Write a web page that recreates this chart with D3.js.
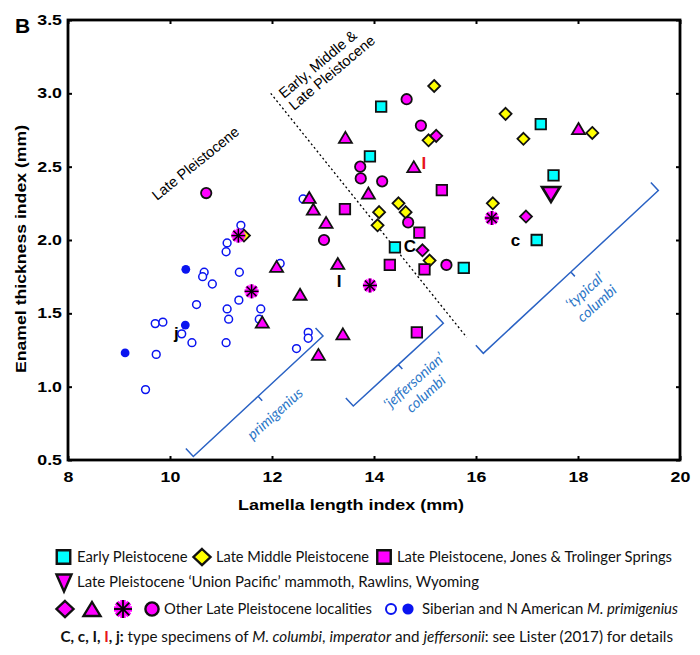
<!DOCTYPE html>
<html><head><meta charset="utf-8">
<script src="https://cdn.jsdelivr.net/npm/d3@7"></script>
<style>body{margin:0;background:#fff}</style>
</head><body>
<svg id="c" width="700" height="655" xmlns="http://www.w3.org/2000/svg"></svg>
<script>
// ---------- data ----------
const xTicks = [8, 10, 12, 14, 16, 18, 20];
const yTicks = [0.5, 1.0, 1.5, 2.0, 2.5, 3.0, 3.5];

const primigeniusOpen = [[11.39,2.10],[11.12,1.98],[11.10,1.92],[10.67,1.78],[10.64,1.75],[10.83,1.70],[11.36,1.78],[10.52,1.56],[11.35,1.59],[11.12,1.53],[11.15,1.46],[9.71,1.43],[9.86,1.44],[10.23,1.36],[10.43,1.30],[11.10,1.30],[9.73,1.22],[9.52,0.98],[12.16,1.84],[11.78,1.53],[11.75,1.46],[12.61,2.28],[12.71,1.37],[12.71,1.33],[12.48,1.26]];
const primigeniusFilled = [[10.31,1.80],[10.30,1.42],[9.12,1.23]];
const earlyPleistocene = [[14.14,2.91],[13.92,2.57],[14.41,1.95],[15.76,1.81],[17.27,2.79],[17.52,2.44],[17.19,2.00]];
const lateMiddlePleistocene = [[15.18,3.05],[15.07,2.68],[16.58,2.86],[16.93,2.69],[18.28,2.73],[16.33,2.25],[14.48,2.25],[14.62,2.19],[14.10,2.19],[14.07,2.10],[15.09,1.86],[11.45,2.03]];
const jonesTrolinger = [[13.43,2.21],[14.31,1.83],[14.89,2.05],[14.99,1.80],[14.84,1.37],[15.33,2.34]];
const otherDiamond = [[15.22,2.71],[14.95,1.93],[16.98,2.16]];
const otherTriangle = [[12.73,2.29],[12.81,2.21],[13.06,2.12],[12.09,1.82],[13.29,1.84],[12.55,1.63],[11.81,1.44],[13.39,1.36],[12.91,1.22],[13.89,2.32],[14.78,2.50],[13.44,2.70],[18.01,2.76]];
const otherCircle = [[10.71,2.32],[13.02,2.00],[13.73,2.50],[13.74,2.42],[14.16,2.40],[14.64,2.96],[14.92,2.78],[14.67,2.12],[15.42,1.83]];
const otherAsterisk = [[11.34,2.03],[11.60,1.65],[13.92,1.69],[16.31,2.15]];
const unionPacific = [[17.47,2.31]];

// type-specimen letters (x = centre, y = baseline, data units)
const typeLabels = [
  {t:"C", x:14.706, y:1.918, c:"#000"},
  {t:"c", x:16.775, y:1.959, c:"#000"},
  {t:"I", x:13.314, y:1.679, c:"#000"},
  {t:"I", x:14.98,  y:2.482, c:"#e8141b"},
  {t:"j", x:10.127, y:1.322, c:"#000"}
];
// dividing line (data units)
const divider = [[11.975, 3.0], [15.818, 1.336]];
// brackets (corner points, data units) and their labels
const brackets = [
  {x1:10.457, y1:0.524, x2:13.00, y2:1.345},
  {x1:13.594, y1:0.868, x2:15.359, y2:1.432},
  {x1:16.143, y1:1.227, x2:19.575, y2:2.337}
];
const bracketLabels = [
  {lines:["primigenius"], x:12.06, y:0.816},
  {lines:["\u2018jeffersonian\u2019","columbi"], x:14.90, y:0.995},
  {lines:["\u2018typical\u2019","columbi"], x:18.255, y:1.611}
];

// ---------- setup ----------
const svg = d3.select('#c');
const L = 68, R = 680, T = 20, B = 460;
const x = d3.scaleLinear().domain([8, 20]).range([L, R]);
const y = d3.scaleLinear().domain([0.5, 3.5]).range([B, T]);
const AX = "'Liberation Sans', Arial, sans-serif";
const LG = "Lato, 'Open Sans', sans-serif";

function fitW(sel, w) { sel.attr('textLength', w).attr('lengthAdjust', 'spacingAndGlyphs'); }
function stretch(sel, f) {
  sel.each(function () {
    const w = this.getComputedTextLength();
    this.setAttribute('textLength', w * f);
    this.setAttribute('lengthAdjust', 'spacingAndGlyphs');
  });
}

// shapes
const P = {
  square: s => `M${-s/2},${-s/2}h${s}v${s}h${-s}Z`,
  diamond: (w, h) => `M0,${-h/2}L${w/2},0L0,${h/2}L${-w/2},0Z`,
  tri: (w, h) => `M0,${-h/2}L${w/2},${h/2}L${-w/2},${h/2}Z`,
  invTri: (w, h) => `M${-w/2},${-h/2}L${w/2},${-h/2}L0,${h/2}Z`
};
function asterisk(g, r) {
  const a = [0, 45, 90, 135];
  a.forEach(d => {
    const c = Math.cos(d * Math.PI / 180), s = Math.sin(d * Math.PI / 180);
    g.append('line').attr('x1', -c*r).attr('y1', -s*r).attr('x2', c*r).attr('y2', s*r)
      .attr('stroke', '#ff00ff').attr('stroke-width', r * 0.6).attr('stroke-linecap', 'butt');
  });
  a.forEach(d => {
    const c = Math.cos(d * Math.PI / 180), s = Math.sin(d * Math.PI / 180);
    g.append('line').attr('x1', -c*r).attr('y1', -s*r).attr('x2', c*r).attr('y2', s*r)
      .attr('stroke', '#000').attr('stroke-width', r * 0.2);
  });
}

// ---------- axes ----------
const gx = svg.append('g').attr('transform', `translate(0,${B})`)
  .call(d3.axisBottom(x).tickValues(xTicks).tickSizeInner(-4).tickSizeOuter(0).tickPadding(12).tickFormat(d3.format('d')));
const gy = svg.append('g').attr('transform', `translate(${L},0)`)
  .call(d3.axisLeft(y).tickValues(yTicks).tickSizeInner(-4).tickSizeOuter(0).tickPadding(6).tickFormat(d3.format('.1f')));
const gt = svg.append('g').attr('transform', `translate(0,${T})`)
  .call(d3.axisTop(x).tickValues(xTicks).tickSizeInner(-4).tickSizeOuter(0).tickFormat(''));
const gr = svg.append('g').attr('transform', `translate(${R},0)`)
  .call(d3.axisRight(y).tickValues(yTicks).tickSizeInner(-4).tickSizeOuter(0).tickFormat(''));
[gx, gy, gt, gr].forEach(g => {
  g.select('.domain').remove();
  g.selectAll('.tick line').attr('stroke', '#000').attr('stroke-width', 2);
});
[gx, gy].forEach(g => g.selectAll('.tick text')
  .attr('font-family', AX).attr('font-weight', 'bold').attr('font-size', 14).attr('fill', '#000'));
stretch(gx.selectAll('.tick text'), 1.27);
stretch(gy.selectAll('.tick text'), 1.27);

svg.append('rect').attr('x', L).attr('y', T).attr('width', R - L).attr('height', B - T)
  .attr('fill', 'none').attr('stroke', '#000').attr('stroke-width', 2.8);

// axis titles
const xt = svg.append('text').attr('x', 351).attr('y', 510).attr('text-anchor', 'middle')
  .attr('font-family', AX).attr('font-weight', 'bold').attr('font-size', 15.5).text('Lamella length index (mm)');
fitW(xt, 226);
const yt = svg.append('text').attr('transform', 'translate(26,249) rotate(-90)').attr('text-anchor', 'middle')
  .attr('font-family', AX).attr('font-weight', 'bold').attr('font-size', 15.5).text('Enamel thickness index (mm)');
fitW(yt, 248);
svg.append('text').attr('x', 15).attr('y', 33).attr('font-family', AX).attr('font-weight', 'bold')
  .attr('font-size', 21).text('B');

// ---------- annotations ----------
svg.append('line').attr('x1', x(divider[0][0])).attr('y1', y(divider[0][1]))
  .attr('x2', x(divider[1][0])).attr('y2', y(divider[1][1]))
  .attr('stroke', '#000').attr('stroke-width', 1.3).attr('stroke-dasharray', '2,2.6');

const lp = svg.append('text').attr('transform', `translate(${x(9.745)},${y(2.266)}) rotate(-39)`)
  .attr('font-family', AX).attr('font-size', 14.5).attr('fill', '#000');
lp.text('Late Pleistocene');
const em = svg.append('text').attr('transform', `translate(${x(12.235)},${y(2.961)}) rotate(-40)`)
  .attr('font-family', AX).attr('font-size', 14.5).attr('fill', '#000');
em.append('tspan').attr('x', 0).attr('y', 0).text('Early, Middle &');
em.append('tspan').attr('x', 0).attr('y', 15.5).text('Late Pleistocene');

const BC = '#2a62c4', BL = '#2e78c8';
const ang = -42.7 * Math.PI / 180;
const ux = Math.cos(ang), uy = Math.sin(ang);
const nx = -uy, ny = ux; // perpendicular (down-right)
brackets.forEach(b => {
  const ax = x(b.x1), ay = y(b.y1), bx = x(b.x2), by = y(b.y2);
  const mx = (ax + bx) / 2, my = (ay + by) / 2;
  const h = 11, t = 6;
  const d = `M${ax - nx*h},${ay - ny*h}L${ax},${ay}L${mx},${my}L${mx + nx*t},${my + ny*t}M${mx},${my}L${bx},${by}L${bx - nx*h},${by - ny*h}`;
  svg.append('path').attr('d', d).attr('fill', 'none').attr('stroke', BC).attr('stroke-width', 1.5);
});
bracketLabels.forEach(l => {
  const tx = svg.append('text').attr('transform', `translate(${x(l.x)},${y(l.y)}) rotate(-42)`)
    .attr('text-anchor', 'middle').attr('font-family', LG).attr('font-style', 'italic')
    .attr('font-size', 14.5).attr('fill', BL);
  const n = l.lines.length, lh = 17.5;
  l.lines.forEach((s, i) => tx.append('tspan').attr('x', 0).attr('y', (i - (n - 1) / 2) * lh + 5).text(s));
});

// ---------- points ----------
const tr = d => `translate(${x(d[0])},${y(d[1])})`;
const SW = 1.8, SK = '#111';
svg.append('g').selectAll('circle').data(primigeniusOpen).join('circle')
  .attr('cx', d => x(d[0])).attr('cy', d => y(d[1])).attr('r', 3.9)
  .attr('fill', '#fff').attr('stroke', '#0a14f0').attr('stroke-width', 1.5);
svg.append('g').selectAll('circle').data(primigeniusFilled).join('circle')
  .attr('cx', d => x(d[0])).attr('cy', d => y(d[1])).attr('r', 4.4).attr('fill', '#0a14f0');
svg.append('g').selectAll('path').data(earlyPleistocene).join('path')
  .attr('transform', tr).attr('d', P.square(10.5)).attr('fill', '#00ffff').attr('stroke', SK).attr('stroke-width', SW);
svg.append('g').selectAll('path').data(lateMiddlePleistocene).join('path')
  .attr('transform', tr).attr('d', P.diamond(12, 12)).attr('fill', '#ffff00').attr('stroke', SK).attr('stroke-width', SW);
svg.append('g').selectAll('path').data(jonesTrolinger).join('path')
  .attr('transform', tr).attr('d', P.square(10.5)).attr('fill', '#ff00ff').attr('stroke', SK).attr('stroke-width', SW);
svg.append('g').selectAll('path').data(otherDiamond).join('path')
  .attr('transform', tr).attr('d', P.diamond(12, 12)).attr('fill', '#ff00ff').attr('stroke', SK).attr('stroke-width', SW);
svg.append('g').selectAll('path').data(otherTriangle).join('path')
  .attr('transform', tr).attr('d', P.tri(13, 11)).attr('fill', '#ff00ff').attr('stroke', SK).attr('stroke-width', SW).attr('stroke-linejoin', 'miter');
svg.append('g').selectAll('circle').data(otherCircle).join('circle')
  .attr('cx', d => x(d[0])).attr('cy', d => y(d[1])).attr('r', 5.2)
  .attr('fill', '#ff00ff').attr('stroke', SK).attr('stroke-width', SW);
svg.append('g').selectAll('g').data(otherAsterisk).join('g')
  .attr('transform', tr).each(function () { asterisk(d3.select(this), 7); });
svg.append('g').selectAll('path').data(unionPacific).join('path')
  .attr('transform', tr).attr('d', P.invTri(18, 15)).attr('fill', '#ff00ff').attr('stroke', SK).attr('stroke-width', 2.6);

// type labels
svg.append('g').selectAll('text').data(typeLabels).join('text')
  .attr('x', d => x(d.x)).attr('y', d => y(d.y)).attr('text-anchor', 'middle')
  .attr('font-family', AX).attr('font-weight', 'bold').attr('font-size', 17)
  .attr('fill', d => d.c).text(d => d.t);

// ---------- legend ----------
const lg = svg.append('g');
const LS = 2.4;
function lgText(xp, yp, w, parts) {
  const t = lg.append('text').attr('x', xp).attr('y', yp).attr('font-family', LG).attr('font-size', 14.5).attr('fill', '#111');
  parts.forEach(p => {
    const s = t.append('tspan').text(p.s);
    if (p.i) s.attr('font-style', 'italic');
    if (p.b) s.attr('font-weight', 'bold');
    if (p.c) s.attr('fill', p.c);
  });
  fitW(t, w);
  return t;
}
// row 1
let r1 = 557;
lg.append('path').attr('transform', `translate(63.5,${r1})`).attr('d', P.square(13.5)).attr('fill', '#00ffff').attr('stroke', SK).attr('stroke-width', LS);
lgText(77, r1 + 5, 110.5, [{s:'Early Pleistocene'}]);
lg.append('path').attr('transform', `translate(202,${r1})`).attr('d', P.diamond(17, 16)).attr('fill', '#ffff00').attr('stroke', SK).attr('stroke-width', LS);
lgText(216, r1 + 5, 153, [{s:'Late Middle Pleistocene'}]);
lg.append('path').attr('transform', `translate(384,${r1})`).attr('d', P.square(13.5)).attr('fill', '#ff00ff').attr('stroke', SK).attr('stroke-width', LS);
lgText(397, r1 + 5, 275, [{s:'Late Pleistocene, Jones & Trolinger Springs'}]);
// row 2
let r2 = 582;
lg.append('path').attr('transform', `translate(64,${r2 + 1})`).attr('d', P.invTri(15, 17)).attr('fill', '#ff00ff').attr('stroke', SK).attr('stroke-width', LS);
lgText(77, r2 + 5, 402, [{s:'Late Pleistocene \u2018Union Pacific\u2019 mammoth, Rawlins, Wyoming'}]);
// row 3
let r3 = 609;
lg.append('path').attr('transform', `translate(65,${r3})`).attr('d', P.diamond(17, 16)).attr('fill', '#ff00ff').attr('stroke', SK).attr('stroke-width', LS);
lg.append('path').attr('transform', `translate(92,${r3})`).attr('d', P.tri(17, 14)).attr('fill', '#ff00ff').attr('stroke', SK).attr('stroke-width', LS);
const la = lg.append('g').attr('transform', `translate(123,${r3})`); asterisk(la, 9);
lg.append('circle').attr('cx', 152).attr('cy', r3).attr('r', 6.6).attr('fill', '#ff00ff').attr('stroke', SK).attr('stroke-width', LS);
lgText(164, r3 + 5, 208, [{s:'Other Late Pleistocene localities'}]);
lg.append('circle').attr('cx', 391).attr('cy', r3).attr('r', 5).attr('fill', '#fff').attr('stroke', '#0a14f0').attr('stroke-width', 2);
lg.append('circle').attr('cx', 408).attr('cy', r3).attr('r', 5.6).attr('fill', '#0a14f0');
lgText(422, r3 + 5, 256, [{s:'Siberian and N American '}, {s:'M. primigenius', i:1}]);
// row 4
let r4 = 637;
lgText(60.5, r4 + 5, 612.5, [
  {s:'C, c, I, ', b:1}, {s:'I', b:1, c:'#e8141b'}, {s:', j:', b:1},
  {s:' type specimens of '}, {s:'M. columbi', i:1}, {s:', '}, {s:'imperator', i:1},
  {s:' and  '}, {s:'jeffersonii', i:1}, {s:': see Lister (2017) for details'}
]);
</script>
</body></html>
